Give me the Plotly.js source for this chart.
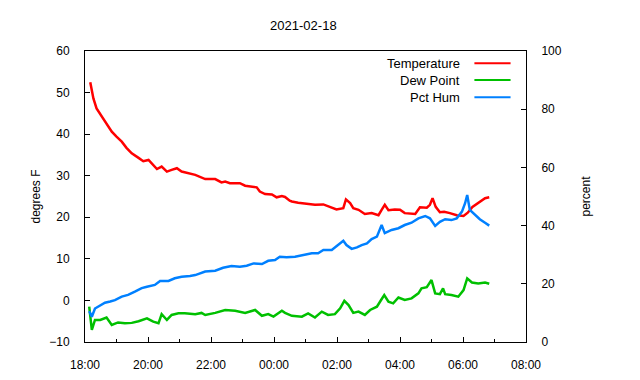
<!DOCTYPE html>
<html>
<head>
<meta charset="utf-8">
<script src="https://cdn.plot.ly/plotly-3.0.1.min.js"></script>
<style>html,body{margin:0;padding:0;background:#fff;}#chart{width:640px;height:380px;}</style>
</head>
<body>
<div id="chart"></div>
<script>
// ---- data ----
const chartTitle = "2021-02-18";
const seriesNames = ["Temperature", "Dew Point", "Pct Hum"];
const seriesColors = ["#ff0000", "#00c000", "#0080ff"];

const tempTimes = ["18:10","18:14","18:16","18:22","18:32","18:41","18:51","19:00","19:10","19:19","19:29","19:42","19:51","20:01","20:07","20:17","20:26","20:36","20:45","20:55","21:04","21:17","21:30","21:49","22:08","22:20","22:27","22:36","22:55","23:05","23:18","23:27","23:33","23:43","23:56","00:05","00:15","00:21","00:30","00:34","00:46","01:05","01:18","01:34","01:47","01:59","02:12","02:17","02:25","02:31","02:41","02:53","03:06","03:19","03:25","03:31","03:38","03:50","04:00","04:09","04:29","04:38","04:51","04:57","05:02","05:08","05:16","05:24","05:35","05:48","06:01","06:09","06:18","06:29","06:42","06:50"];
const tempValues = [52.5,50.2,48.6,46.2,44.2,42.6,40.6,39.4,38.2,36.7,35.4,34.3,33.5,33.8,33.0,31.6,32.2,31.0,31.4,31.8,31.0,30.6,30.2,29.2,29.2,28.4,28.6,28.2,28.2,27.6,27.4,27.2,26.2,25.6,25.5,24.8,25.1,24.9,24.0,23.8,23.5,23.2,23.0,23.1,22.4,21.9,22.2,24.3,23.4,22.2,21.8,20.8,21.0,20.5,21.8,23.0,21.7,21.9,21.8,21.0,20.8,22.4,22.3,23.0,24.6,22.5,21.2,21.3,21.0,20.5,20.3,21.1,22.5,23.4,24.6,24.8];

const dewTimes = ["18:08","18:11","18:13","18:19","18:29","18:41","18:51","19:03","19:16","19:29","19:42","19:58","20:10","20:20","20:26","20:36","20:45","20:58","21:10","21:30","21:42","21:49","22:08","22:27","22:46","23:05","23:24","23:37","23:49","23:59","00:15","00:21","00:34","00:53","01:05","01:18","01:31","01:43","01:56","02:06","02:14","02:22","02:31","02:41","02:53","03:03","03:16","03:24","03:30","03:38","03:47","03:57","04:09","04:22","04:35","04:41","04:51","05:00","05:07","05:16","05:22","05:26","05:38","05:51","06:01","06:08","06:17","06:29","06:42","06:50"];
const dewValues = [-1.5,-4.7,-7.1,-4.7,-4.7,-4.1,-5.9,-5.3,-5.5,-5.4,-5.0,-4.3,-5.1,-5.5,-3.3,-4.7,-3.5,-3.1,-3.1,-3.3,-3.0,-3.5,-3.0,-2.3,-2.5,-3.0,-2.3,-3.7,-3.3,-3.9,-2.5,-3.0,-3.7,-3.9,-3.1,-4.1,-2.7,-3.5,-3.3,-1.9,-0.1,-1.1,-3.0,-2.7,-3.5,-2.3,-1.5,0.1,1.3,-0.3,-0.7,0.7,0.1,0.5,1.7,2.9,3.2,4.9,1.7,1.5,2.9,1.5,1.3,0.9,2.5,5.3,4.3,4.1,4.3,4.0];

const humTimes = ["18:08","18:13","18:19","18:29","18:38","18:48","18:57","19:10","19:22","19:35","19:48","19:58","20:13","20:23","20:39","20:51","21:04","21:20","21:30","21:49","22:08","22:23","22:39","22:55","23:08","23:21","23:37","23:49","00:02","00:11","00:24","00:40","00:59","01:12","01:24","01:34","01:50","02:02","02:12","02:18","02:28","02:38","02:47","02:57","03:06","03:16","03:22","03:25","03:31","03:44","03:57","04:09","04:22","04:35","04:48","04:57","05:07","05:16","05:26","05:38","05:48","05:58","06:04","06:08","06:13","06:23","06:32","06:42","06:50"];
const humValues = [10.6,8.7,11.5,12.7,13.5,13.9,14.4,15.6,16.2,17.3,18.5,19.0,19.6,21.0,21.0,21.9,22.4,22.7,23.0,24.2,24.5,25.5,26.1,25.9,26.2,27.0,26.8,27.9,28.2,29.3,29.1,29.3,30.1,30.5,30.5,31.6,31.6,33.3,34.8,33.3,32.0,32.5,33.3,33.9,35.4,36.2,38.5,40.2,37.4,38.5,39.1,40.2,41.0,42.5,43.3,42.5,39.9,41.3,42.2,41.9,42.5,44.8,47.7,50.5,45.4,43.6,42.2,41.0,40.0];

const xRange = ["2021-02-18 18:00", "2021-02-19 08:00"];
const yLeftRange = [-10, 60];
const yRightRange = [0, 100];
const yLeftTitle = "degrees F";
const yRightTitle = "percent";

// times from 18:00 onward belong to 2021-02-18, earlier ones to the next day
function toDate(t) {
  const h = parseInt(t.slice(0, 2), 10);
  return (h >= 12 ? "2021-02-18 " : "2021-02-19 ") + t;
}

const FONT = "Liberation Sans, Arial, sans-serif";

const traces = [
  {x: tempTimes.map(toDate), y: tempValues, name: seriesNames[0], type: "scatter", mode: "lines",
   line: {color: seriesColors[0], width: 2.5}, yaxis: "y"},
  {x: dewTimes.map(toDate), y: dewValues, name: seriesNames[1], type: "scatter", mode: "lines",
   line: {color: seriesColors[1], width: 2.5}, yaxis: "y"},
  {x: humTimes.map(toDate), y: humValues, name: seriesNames[2], type: "scatter", mode: "lines",
   line: {color: seriesColors[2], width: 2.5}, yaxis: "y2"}
];

// legend drawn gnuplot-style: right-aligned text, sample line on the right
const legendY = [0.958, 0.900, 0.841];
const annotations = seriesNames.map((n, i) => ({
  xref: "paper", yref: "paper", x: 0.856, y: legendY[i], text: n, showarrow: false,
  xanchor: "right", yanchor: "middle", font: {family: FONT, size: 13, color: "#000"}
}));
const shapes = seriesNames.map((n, i) => ({
  type: "line", xref: "paper", yref: "paper", x0: 0.883, x1: 0.965, y0: legendY[i], y1: legendY[i],
  line: {color: seriesColors[i], width: 2}
}));

const layout = {
  width: 640, height: 380,
  margin: {l: 85, r: 114, t: 51, b: 38},
  paper_bgcolor: "#fff", plot_bgcolor: "#fff",
  showlegend: false,
  font: {family: FONT, size: 12, color: "#000"},
  title: {text: chartTitle, font: {family: FONT, size: 13, color: "#000"}, x: 0.474, xanchor: "center", y: 0.934, yanchor: "middle"},
  xaxis: {
    type: "date", range: xRange, dtick: 7200000, tick0: "2021-02-18 18:00", tickformat: "%H:%M",
    ticks: "inside", ticklen: 5, tickcolor: "#000", tickwidth: 1,
    minor: {dtick: 3600000, ticks: "inside", ticklen: 3, tickcolor: "#000"},
    showline: true, linecolor: "#000", linewidth: 1, mirror: true,
    showgrid: false, zeroline: false, ticklabelstandoff: 12,
    tickfont: {family: FONT, size: 12, color: "#000"}
  },
  yaxis: {
    range: yLeftRange, dtick: 10, ticks: "inside", ticklen: 5, tickcolor: "#000",
    showline: true, linecolor: "#000", linewidth: 1, mirror: false,
    showgrid: false, zeroline: false, ticklabelstandoff: 12,
    tickfont: {family: FONT, size: 12, color: "#000"},
    title: {text: yLeftTitle, font: {family: FONT, size: 12, color: "#000"}, standoff: 6}
  },
  yaxis2: {
    range: yRightRange, dtick: 20, overlaying: "y", side: "right", anchor: "x",
    ticks: "inside", ticklen: 5, tickcolor: "#000",
    showline: true, linecolor: "#000", linewidth: 1,
    showgrid: false, zeroline: false, ticklabelstandoff: 12,
    tickfont: {family: FONT, size: 12, color: "#000"},
    title: {text: yRightTitle, font: {family: FONT, size: 12, color: "#000"}, standoff: 20}
  },
  annotations: annotations,
  shapes: shapes
};

Plotly.newPlot("chart", traces, layout, {staticPlot: true, displayModeBar: false});
</script>
</body>
</html>
